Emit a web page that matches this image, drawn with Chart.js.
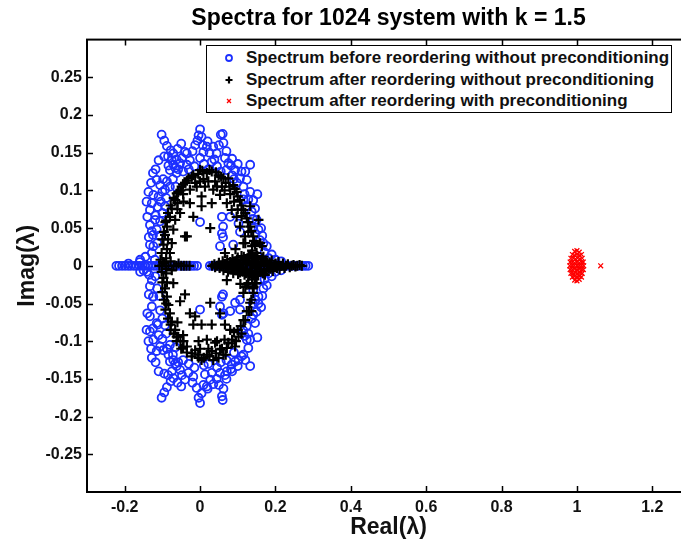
<!DOCTYPE html>
<html>
<head>
<meta charset="utf-8">
<script src="https://cdn.jsdelivr.net/npm/chart.js@4.4.0/dist/chart.umd.min.js"></script>
<style>
  html, body { margin: 0; padding: 0; background: #fff; overflow: hidden; }
  #wrap { position: relative; width: 700px; height: 542px; }
  #legend {
    position: absolute; left: 206px; top: 45px; width: 464px; height: 66px;
    border: 1.5px solid #000; background: #fff;
    font: bold 17px "Liberation Sans", Arial, sans-serif; color: #111;
  }
  #legend .row { position: absolute; left: 0; height: 20px; line-height: 20px; white-space: nowrap; }
  #legend canvas { position: absolute; left: 15px; top: 3px; }
  #legend .lbl { position: absolute; left: 39px; top: 0; }
</style>
</head>
<body>
<div id="wrap">
  <canvas id="chart" width="700" height="542"></canvas>
  <div id="legend"></div>
</div>
<script>
document.addEventListener("DOMContentLoaded", () => {

  const FONT = "'Liberation Sans', Arial, sans-serif";

  const titleText = "Spectra for 1024 system with k = 1.5";
  const seriesNames = [
    "Spectrum before reordering without preconditioning",
    "Spectrum after reordering without preconditioning",
    "Spectrum after reordering with preconditioning"
  ];
  const xTicks = [-0.2, 0, 0.2, 0.4, 0.6, 0.8, 1, 1.2];
  const yTicks = [-0.25, -0.2, -0.15, -0.1, -0.05, 0, 0.05, 0.1, 0.15, 0.2, 0.25];

  // ===== blue circles: before reordering, no preconditioning =====
  const blueAxis = [
    [-0.222,0],[-0.215,0],[-0.207,0],[-0.199,0],[-0.191,0],[-0.184,0],[-0.176,0],[-0.169,0],
    [-0.161,0],[-0.153,0],[-0.146,0],[-0.138,0],[-0.131,0],[-0.123,0],[-0.116,0],[-0.108,0],
    [-0.1,0],[-0.093,0],[-0.085,0],[-0.077,0],[-0.07,0],[-0.062,0],[-0.054,0],[-0.047,0],
    [-0.039,0],[-0.031,0],[-0.023,0],[-0.016,0],[-0.008,0],
    [-0.19,0.003],[-0.16,0.005],[-0.15,-0.006],[-0.145,0.012],[-0.135,-0.012],[-0.12,0.008],
    [0.026,0],[0.033,0],[0.041,0],[0.048,0],[0.056,0],[0.063,0],[0.071,0],[0.078,0],[0.086,0],
    [0.093,0],[0.101,0],[0.108,0],[0.116,0],[0.123,0],[0.131,0],[0.138,0],[0.146,0],[0.153,0],
    [0.161,0],[0.168,0],[0.176,0],[0.183,0],[0.191,0],[0.198,0],[0.206,0],[0.213,0],[0.221,0],
    [0.228,0],[0.236,0],[0.243,0],[0.251,0],[0.258,0],[0.266,0],[0.273,0],[0.28,0],[0.287,0]
  ];
  const blueUpper = [
    [-0.102,0.174],[-0.095,0.166],[-0.088,0.159],[-0.078,0.153],[-0.071,0.149],[0,0.181],[-0.004,0.173],
    [0.004,0.171],[-0.007,0.166],[0.007,0.16],[0.009,0.151],[0.055,0.174],[0.062,0.163],[-0.04,0.151],
    [-0.013,0.16],[0.025,0.15],[0.133,0.134],[-0.071,0.134],[-0.08,0.127],[-0.062,0.123],[-0.053,0.136],
    [-0.125,0.123],[-0.115,0.114],[-0.106,0.107],[-0.137,0.098],[-0.124,0.094],[-0.093,0.101],[-0.104,0.085],
    [-0.133,0.074],[-0.119,0.061],[-0.133,0.054],[-0.115,0.048],[-0.124,0.026],[-0.035,0.149],[-0.027,0.14],
    [0,0.143],[0.044,0.149],[0.066,0.143],[0.075,0.136],[0.093,0.127],[0.106,0.116],[0.124,0.114],
    [0.115,0.105],[0.133,0.098],[0.141,0.087],[0.146,0.076],[0.124,0.079],[0.15,0.061],[0.155,0.048],
    [0.159,0.034],[0.177,0.026],[0.058,0.065],[0.058,0.043],[0.061,0.052],[0.08,0.065],[0.102,0.056],
    [0.106,0.045],[0.053,0.026],[-0.125,0.041],[-0.106,0.059],[-0.093,0.079],[0.031,0.138],[-0.035,0.134],
    [0,0.058],[0.061,0.038],[-0.066,0.13],[-0.075,0.14],[-0.058,0.128],[-0.084,0.133],[-0.062,0.141],
    [-0.048,0.143],[-0.02,0.152],[0.018,0.158],[0.038,0.141],[0.085,0.12],[0.098,0.11],[-0.11,0.092],
    [-0.128,0.083],[-0.098,0.115],[-0.118,0.067],[-0.128,0.046],[-0.128,0.017],[-0.133,0.028],[0.088,0.028],
    [0.19,0.015],[-0.159,0.008],[0.165,0.04],[0.14,0.05],[0.171,0.018],[0.2,0.008],[0.215,0.006],[0.182,0.01],
    [-0.045,0.125],[-0.03,0.128],[-0.015,0.132],[0.01,0.135],[0.022,0.128],[0.045,0.132],[0.055,0.125],
    [0.07,0.127],[0.082,0.133],[0.09,0.115],[0.11,0.125],[0.118,0.095],[0.128,0.088],[0.137,0.072],
    [0.14,0.062],[0.147,0.042],[0.162,0.05],[0.168,0.03],[0.152,0.095],[-0.088,0.112],[-0.08,0.105],
    [-0.072,0.115],[-0.09,0.09],[-0.1,0.098],[-0.112,0.078],[-0.1,0.07],[-0.108,0.04],[-0.114,0.03],
    [-0.136,0.038],[-0.14,0.065],[-0.142,0.085],[-0.13,0.11],[-0.118,0.128],[-0.11,0.14],[-0.085,0.145],
    [-0.06,0.155],[-0.05,0.162],[0.02,0.165],[0.035,0.158],[0.05,0.16],[0.07,0.152],[0.085,0.142],
    [0.1,0.135],[0.12,0.125],[-0.095,0.145],[-0.065,0.105],[0.06,0.175],[0.115,0.088]
  ];
  const blueLower = [
    [0,-0.182],[-0.004,-0.175],[0.004,-0.169],[-0.009,-0.162],[0.009,-0.158],[-0.102,-0.175],[-0.095,-0.168],
    [-0.088,-0.161],[-0.078,-0.153],[-0.071,-0.149],[0.058,-0.173],[0.062,-0.163],[0.133,-0.133],[-0.04,-0.151],
    [0.027,-0.151],[-0.071,-0.125],[-0.084,-0.118],[-0.062,-0.133],[-0.053,-0.138],[-0.128,-0.122],[-0.115,-0.113],
    [-0.137,-0.1],[-0.124,-0.098],[-0.106,-0.107],[-0.133,-0.087],[-0.115,-0.076],[-0.133,-0.067],[-0.128,-0.054],
    [-0.124,-0.041],[-0.133,-0.027],[-0.119,-0.014],[0.058,-0.041],[0.053,-0.054],[0,-0.058],[0.062,-0.063],
    [0.093,-0.049],[0.106,-0.058],[0.146,-0.076],[0.141,-0.065],[0.124,-0.098],[0.128,-0.109],[0.115,-0.118],
    [0.102,-0.125],[0.084,-0.131],[0.071,-0.14],[0.053,-0.142],[0.031,-0.142],[0.013,-0.144],[-0.018,-0.147],
    [-0.031,-0.142],[0.141,-0.032],[0.155,-0.041],[0.106,-0.045],[0.159,-0.019],[-0.066,-0.13],[-0.075,-0.14],
    [-0.058,-0.128],[-0.08,-0.127],[-0.048,-0.145],[-0.02,-0.155],[0.018,-0.16],[0.044,-0.15],[0.066,-0.145],
    [0.093,-0.127],[0.15,-0.061],[0.155,-0.05],[0.177,-0.026],[0.19,-0.014],[-0.128,-0.019],[-0.141,-0.008],
    [-0.11,-0.092],[-0.098,-0.112],[-0.125,-0.083],[0.061,-0.038],[0.058,-0.065],[0.08,-0.06],[0.165,-0.04],
    [0.171,-0.018],[0.2,-0.008],[0.215,-0.006],[0.182,-0.01],[-0.159,-0.008],[-0.106,-0.059],[-0.093,-0.079],
    [-0.125,-0.041],[0.133,-0.098],[0.124,-0.08],
    [-0.045,-0.125],[-0.03,-0.13],[-0.015,-0.135],[0.01,-0.132],[0.022,-0.13],[0.045,-0.135],[0.055,-0.128],
    [0.07,-0.125],[0.082,-0.137],[0.09,-0.115],[0.11,-0.12],[0.118,-0.093],[0.128,-0.09],[0.137,-0.07],
    [0.14,-0.05],[0.147,-0.045],[0.162,-0.055],[0.168,-0.03],[0.152,-0.095],[-0.088,-0.11],[-0.08,-0.105],
    [-0.072,-0.118],[-0.09,-0.09],[-0.1,-0.097],[-0.112,-0.078],[-0.1,-0.07],[-0.108,-0.04],[-0.114,-0.03],
    [-0.136,-0.038],[-0.14,-0.063],[-0.142,-0.085],[-0.13,-0.11],[-0.118,-0.128],[-0.11,-0.14],[-0.085,-0.145],
    [-0.06,-0.155],[-0.05,-0.16],[0.02,-0.163],[0.035,-0.157],[0.05,-0.158],[0.07,-0.15],[0.085,-0.14],
    [0.1,-0.133],[0.12,-0.125],[-0.095,-0.143],[-0.065,-0.108],[0.06,-0.178],[0.115,-0.086]
  ];

  // ===== black plus: after reordering, no preconditioning =====
  const blackRing = [
    [0,0.127],[0.018,0.123],[0.031,0.125],[-0.018,0.12],[-0.031,0.116],[0.049,0.12],[0.062,0.116],[0.075,0.116],
    [-0.04,0.11],[-0.049,0.105],[-0.058,0.098],[0.088,0.107],[0.097,0.098],[0.106,0.087],[0.115,0.074],
    [0.124,0.063],[0.133,0.052],[0.141,0.039],[0.146,0.028],[0.15,0.017],[-0.066,0.087],[-0.075,0.076],
    [-0.08,0.065],[-0.088,0.052],[-0.093,0.041],[-0.097,0.028],[-0.102,0.017],[-0.027,0.101],[-0.009,0.105],
    [0.013,0.105],[0.035,0.101],[0.053,0.094],[0.004,0.092],[0.031,0.083],[0.071,0.083],[0.084,0.074],
    [0.097,0.065],[0.106,0.052],[0.119,0.039],[-0.044,0.085],[-0.053,0.07],[-0.066,0.061],[-0.071,0.048],
    [-0.04,0.039],[0.027,0.05],[-0.075,0.03],[-0.08,0.017],[0.004,0.079],[-0.018,0.065],[-0.027,0.083],
    [0.133,0.079],[0.164,0.026],[0.155,0.061],[-0.035,0.039],[0.009,0.115],[-0.013,0.11],[0.04,0.112],
    [0.058,0.105],[0.08,0.095],[-0.06,0.083],[-0.085,0.035],[-0.09,0.06],[0.128,0.045],[0.11,0.066],
    [-0.105,0.008],[-0.098,0.005],
    [-0.1,0.035],[-0.096,0.045],[-0.092,0.058],[-0.085,0.07],[-0.078,0.08],[-0.07,0.09],[-0.062,0.096],
    [-0.052,0.1],[-0.045,0.108],[-0.035,0.113],[-0.022,0.118],[-0.005,0.122],[0.006,0.126],[0.025,0.127],
    [0.042,0.124],[0.056,0.118],[0.068,0.11],[0.078,0.105],[0.092,0.102],[0.1,0.092],[0.11,0.08],[0.12,0.07],
    [0.127,0.058],[0.136,0.046],[0.143,0.033],[0.138,0.02],[0.12,0.03],[-0.088,0.022],[-0.09,0.01],
    [0,0.112],[0.022,0.112],[0.045,0.105],[-0.06,0.075],[0.09,0.085],[0.1,0.075],[-0.045,0.095],[0.065,0.1],
    [-0.004,-0.122],[0.018,-0.118],[0.031,-0.113],[0.049,-0.122],[0.053,-0.111],[-0.022,-0.116],[-0.035,-0.107],
    [-0.044,-0.1],[-0.058,-0.094],[-0.066,-0.085],[-0.075,-0.074],[-0.08,-0.063],[-0.084,-0.052],[-0.088,-0.041],
    [-0.093,-0.03],[-0.097,-0.016],[-0.071,-0.023],[-0.053,-0.047],[-0.04,-0.038],[-0.027,-0.063],[-0.018,-0.078],
    [0.004,-0.078],[0.027,-0.049],[0.031,-0.078],[0.053,-0.063],[0.066,-0.078],[0.08,-0.085],[0.093,-0.107],
    [0.075,-0.102],[0.102,-0.094],[0.115,-0.072],[0.124,-0.06],[0.133,-0.049],[0.141,-0.036],[0.146,-0.023],
    [0.115,-0.036],[0.128,-0.023],[0.018,-0.098],[-0.004,-0.1],[0.04,-0.102],[0.071,-0.109],[0.004,-0.125],
    [0.035,-0.125],[-0.013,-0.067],[-0.102,-0.008],[-0.1,-0.022],[-0.09,-0.05],[-0.078,-0.085],[-0.062,-0.1],
    [0.062,-0.118],[0.085,-0.098],[0.108,-0.08],[0.136,-0.06],[0.15,-0.012],[-0.05,-0.11],[-0.013,-0.112],
    [-0.1,-0.035],[-0.096,-0.045],[-0.092,-0.058],[-0.085,-0.07],[-0.078,-0.078],[-0.07,-0.09],[-0.062,-0.094],
    [-0.052,-0.1],[-0.045,-0.108],[-0.035,-0.115],[-0.022,-0.12],[-0.005,-0.118],[0.01,-0.122],[0.025,-0.12],
    [0.042,-0.116],[0.058,-0.11],[0.068,-0.118],[0.085,-0.103],[0.095,-0.1],[0.1,-0.085],[0.11,-0.09],
    [0.12,-0.072],[0.13,-0.06],[0.136,-0.045],[0.14,-0.03],[0.138,-0.018],[0.12,-0.028],[-0.088,-0.022],
    [-0.09,-0.01],[0,-0.11],[0.022,-0.11],[0.045,-0.1],[-0.06,-0.075],[0.09,-0.088],[-0.045,-0.092],[0.065,-0.098]
  ];
  const blackAxis = [
    [-0.108,0],[-0.101,0],[-0.095,0.004],[-0.09,-0.004],[-0.084,0],[-0.078,0.006],[-0.075,-0.006],[-0.07,0],
    [-0.063,0],[-0.057,0.003],[-0.05,0],[-0.043,0],[-0.036,0],[-0.028,0],
    [0.032,0],[0.038,0.002],[0.04,-0.002],[0.045,0],[0.05,0.004],[0.052,-0.003],[0.056,0],[0.06,0.006],
    [0.062,-0.006],[0.066,0.002],[0.068,-0.003],[0.072,0.008],[0.074,-0.008],[0.078,0],[0.08,0.005],
    [0.083,-0.005],[0.086,0.009],[0.088,-0.01],[0.09,0.001],[0.094,0.006],[0.096,-0.006],[0.1,0.011],
    [0.101,-0.011],[0.104,0],[0.107,0.004],[0.109,-0.004],[0.112,0.008],[0.113,-0.008],[0.116,0.012],
    [0.118,-0.012],[0.12,0.002],[0.123,0.005],[0.125,-0.005],[0.127,0.01],[0.128,-0.01],[0.13,0.013],
    [0.131,-0.013],[0.134,0.001],[0.136,0.007],[0.138,-0.007],[0.14,0.012],[0.142,-0.012],[0.144,0.003],
    [0.146,-0.003],[0.148,0.009],[0.15,-0.009],[0.152,0.013],[0.154,-0.013],[0.157,0],[0.16,0.005],
    [0.162,-0.005],[0.165,0.01],[0.167,-0.01],[0.17,0.002],[0.174,0.007],[0.176,-0.007],[0.18,0],
    [0.184,0.004],[0.187,-0.004],[0.19,0.007],[0.193,-0.007],[0.197,0.001],[0.2,0.003],[0.204,-0.003],
    [0.208,0.005],[0.211,-0.005],[0.215,0],[0.22,0.003],[0.224,-0.003],[0.228,0],[0.233,0.002],
    [0.238,-0.002],[0.243,0],[0.248,0.001],[0.253,-0.001],[0.258,0],[0.264,0.001],[0.27,0],
    [0.085,0.004],[0.092,-0.003],[0.098,0.008],[0.106,-0.009],[0.11,0.013],[0.114,-0.002],[0.119,0.009],
    [0.122,-0.01],[0.126,0.003],[0.129,0.014],[0.133,-0.006],[0.135,0.015],[0.139,-0.015],[0.141,0.004],
    [0.145,0.011],[0.147,-0.011],[0.151,0.004],[0.155,0.008],[0.158,-0.008],[0.163,0.002],[0.168,0.012],
    [0.172,-0.012],[0.178,0.004],[0.182,-0.004],[0.188,0.002],[0.195,-0.002],
    [0.066,0.017],[0.071,-0.019],[0.115,0.03],[0.159,0.03],[0.124,-0.025],[0.15,-0.023],[0.094,0.022],
    [0.138,0.026],[0.107,-0.024],[0.142,-0.028]
  ];

  // ===== red x: after reordering, with preconditioning =====
  const redCluster = [
    [0.994,0.019],[1.0,0.02],[1.006,0.018],[0.994,-0.019],[1.0,-0.02],[1.006,-0.018],
    [0.988,0.015],[0.994,0.014],[1.0,0.015],[1.006,0.014],[1.012,0.015],
    [0.988,-0.015],[0.994,-0.014],[1.0,-0.015],[1.006,-0.014],[1.012,-0.015],
    [0.984,0.01],[0.99,0.01],[0.996,0.009],[1.002,0.01],[1.008,0.009],[1.014,0.01],
    [0.984,-0.01],[0.99,-0.01],[0.996,-0.009],[1.002,-0.01],[1.008,-0.009],[1.014,-0.01],
    [0.982,0.005],[0.988,0.005],[0.994,0.004],[1.0,0.005],[1.006,0.004],[1.012,0.005],[1.017,0.005],
    [0.982,-0.005],[0.988,-0.005],[0.994,-0.004],[1.0,-0.005],[1.006,-0.004],[1.012,-0.005],[1.017,-0.005],
    [0.981,0],[0.987,0],[0.993,0],[1.0,0],[1.006,0],[1.012,0],[1.018,0],
    [1.063,0]
  ];

  const toXY = arr => arr.map(p => ({ x: p[0], y: p[1] }));

  const styles = [
    { pointStyle: "circle", radius: 4, borderWidth: 1.8, color: "rgb(28,48,255)", legendR: 3 },
    { pointStyle: "cross", radius: 5, borderWidth: 2.2, color: "#000", legendR: 3.5 },
    { pointStyle: "crossRot", radius: 3.4, borderWidth: 1.3, color: "#ff0000", legendR: 2.8 }
  ];

  const seriesData = [
    blueAxis.concat(blueUpper, blueLower),
    blackRing.concat(blackAxis),
    redCluster
  ];

  const datasets = seriesData.map((d, i) => ({
    label: seriesNames[i],
    data: toXY(d),
    order: 3 - i,
    pointStyle: styles[i].pointStyle,
    pointRadius: styles[i].radius,
    pointBorderWidth: styles[i].borderWidth,
    pointBorderColor: styles[i].color,
    pointBackgroundColor: "rgba(0,0,0,0)",
    showLine: false
  }));

  // frame with inward ticks (matlab look)
  const framePlugin = {
    id: "frame",
    afterDatasetsDraw(chart) {
      const { ctx, chartArea: a, scales } = chart;
      const L = 6;
      ctx.save();
      ctx.strokeStyle = "#000";
      ctx.lineWidth = 1.5;
      ctx.beginPath();
      scales.x.ticks.forEach(t => {
        const px = Math.round(scales.x.getPixelForValue(t.value)) + 0.5;
        ctx.moveTo(px, a.bottom); ctx.lineTo(px, a.bottom - L);
        ctx.moveTo(px, a.top); ctx.lineTo(px, a.top + L);
      });
      scales.y.ticks.forEach(t => {
        const py = Math.round(scales.y.getPixelForValue(t.value)) + 0.5;
        ctx.moveTo(a.left, py); ctx.lineTo(a.left + L, py);
        ctx.moveTo(a.right, py); ctx.lineTo(a.right - L, py);
      });
      ctx.stroke();
      ctx.lineWidth = 2;
      ctx.strokeRect(a.left, a.top, a.right - a.left, a.bottom - a.top);
      ctx.restore();
    }
  };

  const tickFont = { family: FONT, size: 16, weight: "bold" };
  const axisTitleFont = { family: FONT, size: 23, weight: "bold" };

  new Chart(document.getElementById("chart"), {
    type: "scatter",
    data: { datasets },
    options: {
      responsive: false,
      animation: false,
      events: [],
      layout: { padding: { left: 0, right: 10, top: 0, bottom: 0 } },
      plugins: {
        legend: { display: false },
        tooltip: { enabled: false },
        title: {
          display: true,
          text: titleText,
          fullSize: false,
          color: "#000",
          font: { family: FONT, size: 23, weight: "bold", lineHeight: 1.2 },
          padding: { top: 5, bottom: 7 }
        }
      },
      scales: {
        x: {
          type: "linear",
          min: -0.3,
          max: 1.3,
          afterBuildTicks: s => { s.ticks = xTicks.map(v => ({ value: v })); },
          afterFit: s => { s.height = 50; },
          grid: { display: false, drawTicks: false },
          border: { display: false },
          ticks: { color: "#111", font: tickFont, padding: 6, callback: v => String(v) },
          title: { display: true, text: "Real(λ)", color: "#111", font: axisTitleFont, padding: { top: 0, bottom: 1 } }
        },
        y: {
          type: "linear",
          min: -0.3,
          max: 0.3,
          afterBuildTicks: s => { s.ticks = yTicks.map(v => ({ value: v })); },
          afterFit: s => { s.width = 87; },
          grid: { display: false, drawTicks: false },
          border: { display: false },
          ticks: { color: "#111", font: tickFont, padding: 5, callback: v => String(v) },
          title: { display: true, text: "Imag(λ)", color: "#111", font: axisTitleFont, padding: { top: 14, bottom: 0 } }
        }
      }
    },
    plugins: [framePlugin]
  });

  // ===== legend box =====
  const legendDiv = document.getElementById("legend");
  const rowTops = [2, 24, 45];
  seriesNames.forEach((name, i) => {
    const row = document.createElement("div");
    row.className = "row";
    row.style.top = rowTops[i] + "px";
    const c = document.createElement("canvas");
    c.width = 14; c.height = 14;
    const cx = c.getContext("2d");
    cx.strokeStyle = styles[i].color;
    cx.fillStyle = "rgba(0,0,0,0)";
    cx.lineWidth = styles[i].borderWidth;
    Chart.helpers.drawPoint(cx, { pointStyle: styles[i].pointStyle, radius: styles[i].legendR, borderWidth: styles[i].borderWidth, rotation: 0 }, 7, 7);
    row.appendChild(c);
    const lbl = document.createElement("span");
    lbl.className = "lbl";
    lbl.textContent = name;
    row.appendChild(lbl);
    legendDiv.appendChild(row);
  });

});
</script>
</body>
</html>
